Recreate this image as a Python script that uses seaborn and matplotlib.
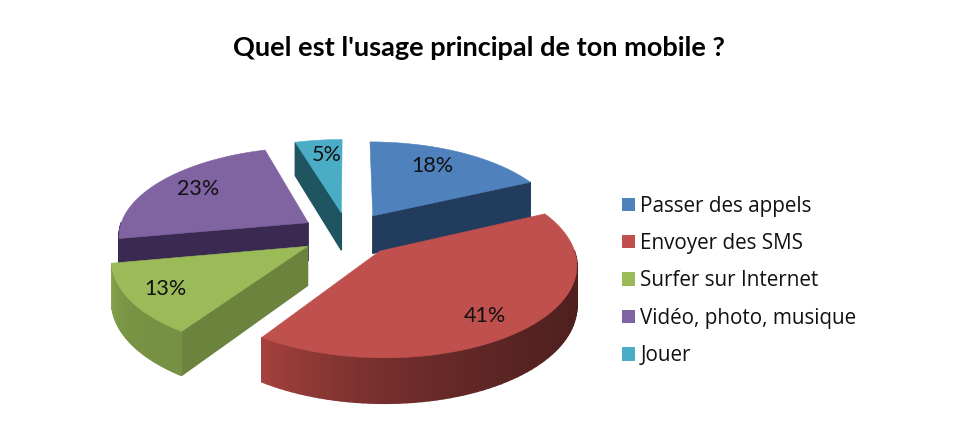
import numpy as np
import seaborn as sns
from matplotlib import pyplot as plt
from matplotlib.colors import to_rgb
from matplotlib.patches import Polygon, Patch

title = "Quel est l'usage principal de ton mobile ?"
categories = ["Passer des appels", "Envoyer des SMS", "Surfer sur Internet",
              "Vidéo, photo, musique", "Jouer"]
shares = [18.0, 41.4, 12.7, 23.3, 4.6]

top_colors = ["#4F81BD", "#C0504D", "#9BBB59", "#8064A2", "#4BACC6"]
cut_colors = ["#223C5E", "#5A2422", "#6B833C", "#3A2A52", "#1F5560"]
wall_dark = ["#223C5E", "#4C1F1E", "#769143", "#3A2A52", "#1F5560"]
wall_light = ["#223C5E", "#A5413E", "#8CAB50", "#3A2A52", "#1F5560"]
label_radius = [0.74, 0.80, 0.81, 0.76, 0.78]
label_frac = [0.45, 0.527, 0.5, 0.527, 0.6]
draw_order = [4, 3, 0, 2, 1]

# projection of the disc on the image
CX, CY = 348, 234
A, B = 190, 88
K = 0.13
DEPTH = 38.5
EXPLODE = 0.25


def project(u, v, z=0.0):
    s = 1 / (1 + K * v)
    return CX + A * u * s, CY - B * v * s + DEPTH * s * z


def blend(c1, c2, t):
    c1, c2 = np.array(to_rgb(c1)), np.array(to_rgb(c2))
    return tuple(c1 + (c2 - c1) * t)


sns.set_theme(style="white")
fig, ax = plt.subplots(figsize=(9.6, 4.34), dpi=100)
fig.subplots_adjust(0, 0, 1, 1)
ax.set_xlim(0, 960)
ax.set_ylim(434, 0)
ax.axis("off")

edges = np.cumsum([0] + shares) / sum(shares) * 2 * np.pi

for i in draw_order:
    a0, a1 = edges[i], edges[i + 1]
    mid = (a0 + a1) / 2
    ou, ov = EXPLODE * np.sin(mid), EXPLODE * np.cos(mid)
    t = np.linspace(a0, a1, 80)
    u = ou + np.sin(t)
    v = ov + np.cos(t)

    # only the sides that face the viewer, back to front
    faces = []
    if np.sin(a0) < -1e-6:
        faces.append((np.mean([ov, v[0]]), [ou, u[0]], [ov, v[0]], cut_colors[i]))
    if np.sin(a1) > 1e-6:
        faces.append((np.mean([ov, v[-1]]), [ou, u[-1]], [ov, v[-1]], cut_colors[i]))
    for k in range(len(t) - 1):
        if np.cos((t[k] + t[k + 1]) / 2) < 0:
            frac = k / (len(t) - 2)
            faces.append(((v[k] + v[k + 1]) / 2, u[k:k + 2], v[k:k + 2],
                          blend(wall_dark[i], wall_light[i], frac ** 3)))
    faces.sort(key=lambda f: -f[0])
    for _, us, vs, col in faces:
        us, vs = np.array(us), np.array(vs)
        x0, y0 = project(us, vs, 0)
        x1, y1 = project(us, vs, 1)
        pts = np.r_[np.c_[x0, y0], np.c_[x1, y1][::-1]]
        ax.add_patch(Polygon(pts, closed=True, fc=col, ec=col, lw=1))

    x, y = project(np.r_[ou, u], np.r_[ov, v])
    ax.add_patch(Polygon(np.c_[x, y], closed=True, fc=top_colors[i], ec=top_colors[i], lw=0.4))

    la = a0 + label_frac[i] * (a1 - a0)
    lx, ly = project(ou + label_radius[i] * np.sin(la), ov + label_radius[i] * np.cos(la))
    ax.text(lx, ly, f"{shares[i]:.0f}%", ha="center", va="center", fontsize=15.5,
            family="Lato", color="#111111")

ax.text(479, 48, title, ha="center", va="center", fontsize=19.55, fontweight="bold",
        family="Lato", color="black")

handles = [Patch(fc=c, ec="none") for c in top_colors]
ax.legend(handles, categories, loc="upper left", bbox_to_anchor=(603, 177),
          bbox_transform=ax.transData, frameon=False, handlelength=0.63,
          handleheight=0.63, handletextpad=0.27, labelspacing=0.79, labelcolor="#111111",
          prop={"family": "Open Sans", "size": 14.9})

fig.savefig("out.png", dpi=100)
